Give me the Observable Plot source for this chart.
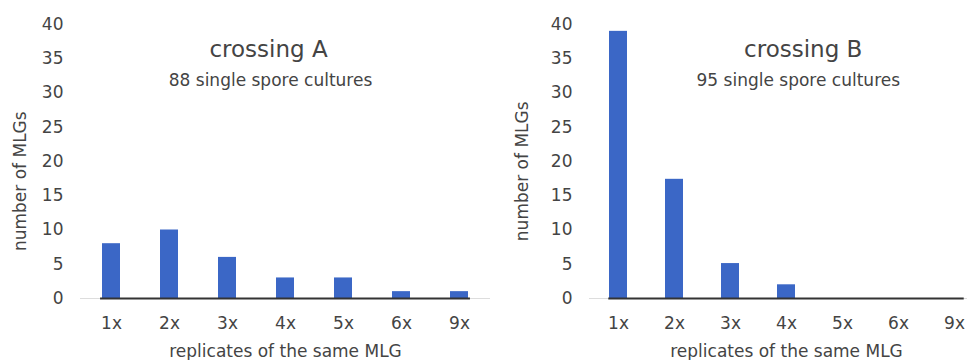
<!DOCTYPE html>
<html><head><meta charset="utf-8">
<script src="https://cdn.jsdelivr.net/npm/d3@7"></script>
<script src="https://cdn.jsdelivr.net/npm/@observablehq/plot@0.6"></script>
<style>
body{margin:0;background:#fff;}
#wrap{position:relative;width:967px;height:360px;overflow:hidden;background:#fff;}
#a,#b{position:absolute;top:0;height:360px;}
#a{left:0;width:490px}
#b{left:487px;width:496px}
#wrap svg{max-width:none !important;}
</style></head><body><div id="wrap"><div id="a"></div><div id="b"></div></div>
<script>
const categories = ["1x","2x","3x","4x","5x","6x","9x"];
const valuesA = [8,10,6,3,3,1,1];
const valuesB = [39,17.4,5.1,2,0,0,0];
const yTicks = [0,5,10,15,20,25,30,35,40];
const titleA = "crossing A";
const titleB = "crossing B";
const subtitleA = "88 single spore cultures";
const subtitleB = "95 single spore cultures";
const xLabel = "replicates of the same MLG";
const yLabel = "number of MLGs";

const FONT = "DejaVu Sans";
const TXT = "#444";

function panel(values, title, subtitle, cfg) {
  const data = categories.map((c, i) => ({cat: c, n: values[i]}));
  const R = cfg.width - cfg.marginLeft;
  const step = R / categories.length;
  const inset = step * 0.3425;
  const t = {textAnchor: "middle", lineAnchor: "middle", fill: TXT};
  return Plot.plot({
    width: cfg.width, height: 360,
    marginLeft: cfg.marginLeft, marginRight: 0, marginTop: 24, marginBottom: 62,
    style: {fontFamily: FONT, fontSize: "17px", color: TXT, background: "transparent", overflow: "visible", maxWidth: "none"},
    x: {type: "band", domain: categories, paddingInner: 0.685, paddingOuter: 0.3425, label: null, axis: null},
    y: {domain: [0, 40], label: null, axis: null},
    marks: [
      Plot.axisY(yTicks, {tickSize: 0, tickPadding: 17, fontSize: 17, fill: TXT, label: null}),
      Plot.axisX({tickSize: 0, tickPadding: 18, fontSize: 17, fill: TXT, label: null}),
      Plot.ruleY([0], {stroke: "#dddddd"}),
      Plot.barY(data, {x: "cat", y: "n", fill: "#3b67c6"}),
      Plot.ruleY([0], {stroke: "#333333", strokeWidth: 2, insetLeft: inset, insetRight: inset}),
      Plot.text([title], {...t, text: d => d, frameAnchor: "top-left", dx: cfg.titleDx, dy: 25.6, fontSize: 23}),
      Plot.text([subtitle], {...t, text: d => d, frameAnchor: "top-left", dx: cfg.subDx, dy: 55.6, fontSize: 17}),
      Plot.text([yLabel], {...t, text: d => d, frameAnchor: "left", rotate: -90, dx: cfg.yLabDx, dy: cfg.yLabDy, fontSize: 17}),
      Plot.text([xLabel], {...t, text: d => d, frameAnchor: "bottom", dy: 52.6, fontSize: 17})
    ]
  });
}

document.getElementById("a").append(panel(valuesA, titleA, subtitleA,
  {width: 490, marginLeft: 80, titleDx: 188, subDx: 190, yLabDx: -60.4, yLabDy: 19.7}));
document.getElementById("b").append(panel(valuesB, titleB, subtitleB,
  {width: 496, marginLeft: 102, titleDx: 213.7, subDx: 208.8, yLabDx: -67, yLabDy: 9.8}));
</script>
</body></html>
